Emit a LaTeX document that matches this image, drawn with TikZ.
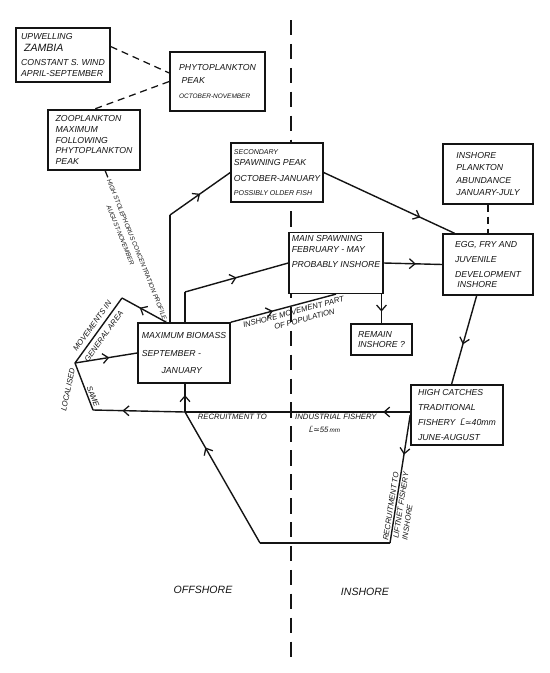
\documentclass[tikz,border=0pt]{standalone}
\usepackage{fontspec}
\setmainfont{Liberation Sans}
\newfontfamily\symfont{DejaVu Sans}
\usetikzlibrary{
  positioning,
  arrows.meta,
  decorations.markings,
}
\definecolor{ink}{HTML}{141414}
\tikzset{
  notebox/.style={
    rectangle, draw=ink, fill=white, line width=1.1pt, align=left,
    font=\fontsize{6.2}{7.6}\selectfont\itshape, text=ink, inner sep=2pt,
  },
  flow/.style={draw=ink, line width=1pt},
  midarrow/.style={postaction={decorate}, decoration={markings,
    mark=at position #1 with {\arrow{Straight Barb[length=4pt, width=7pt, line width=0.9pt]}}}},
  midarrow/.default=0.5,
  dashlink/.style={draw=ink, line width=0.9pt, dash pattern=on 5pt off 3.5pt},
  divider/.style={draw=ink, line width=1.1pt, dash pattern=on 11pt off 6pt},
  lbl/.style={font=\fontsize{5.5}{6.5}\selectfont\itshape, text=ink, inner sep=1pt},
  tinylbl/.style={lbl, font=\fontsize{4.5}{5}\selectfont\itshape},
  sidelbl/.style={font=\fontsize{7.5}{9}\selectfont\itshape, text=ink},
}

\begin{document}
\begin{tikzpicture}[x=0.025cm, y=-0.025cm]
  \useasboundingbox (0,0) rectangle (550,673);

  % offshore / inshore divide
  \coordinate (dtop) at (291,20);
  \coordinate (dbot) at (291,665);
  \draw[divider] (dtop) -- (dbot);

  % plankton boxes
  \node[notebox, minimum width=2.35cm, minimum height=1.35cm] (upw) at (63,55) {UPWELLING\\[1pt]{\fontsize{7.5}{8}\selectfont\ ZAMBIA}\\[2pt]CONSTANT S. WIND\\APRIL-SEPTEMBER};
  \node[notebox, minimum width=2.375cm, minimum height=1.475cm] (phy) at (217.5,81.5) {PHYTOPLANKTON\\[2pt]\ PEAK\\[3pt]{\fontsize{4.6}{5}\selectfont OCTOBER-NOVEMBER}};
  \node[notebox, minimum width=2.3cm, minimum height=1.5cm] (zoo) at (94,140) {ZOOPLANKTON\\MAXIMUM\\FOLLOWING\\PHYTOPLANKTON\\PEAK};
  \node[notebox, minimum width=2.25cm, minimum height=1.5cm] (insp) at (488,174) {INSHORE\\[1pt]PLANKTON\\[1pt]ABUNDANCE\\[1pt]JANUARY-JULY};

  % spawning and stock boxes
  \node[notebox, minimum width=2.25cm, minimum height=1.475cm] (sec) at (277,172.5) {{\fontsize{5}{5.5}\selectfont SECONDARY}\\SPAWNING PEAK\\[4pt]OCTOBER-JANUARY\\[2pt]{\fontsize{5}{6}\selectfont POSSIBLY OLDER FISH}};
  \node[notebox, minimum width=2.3cm, minimum height=1.5cm] (msp) at (336,263) {MAIN SPAWNING\\FEBRUARY - MAY\\[3pt]PROBABLY INSHORE\\[9pt]~};
  \node[notebox, minimum width=2.25cm, minimum height=1.525cm] (eggs) at (488,264.5) {EGG, FRY AND\\[3pt]JUVENILE\\[3pt]DEVELOPMENT\\\ INSHORE};
  \node[notebox, minimum width=1.525cm, minimum height=0.775cm] (remain) at (381.5,339.5) {REMAIN\\INSHORE ?};
  \node[notebox, minimum width=2.3cm, minimum height=1.5cm] (maxb) at (184,353) {MAXIMUM BIOMASS\\[5pt]SEPTEMBER -\\[5pt]\hspace{14pt}JANUARY};
  \node[notebox, minimum width=2.3cm, minimum height=1.5cm] (high) at (457,415) {HIGH CATCHES\\[3pt]TRADITIONAL\\[3pt]FISHERY \ \=L{\symfont\fontsize{5.5}{6}\selectfont ≃}40mm\\[3pt]JUNE-AUGUST};

  % dashed links
  \draw[dashlink] (upw.10) -- (phy.170);
  \draw[dashlink] (phy.west) -- (zoo.north);
  \draw[dashlink] (zoo.290)
    -- node[tinylbl, sloped, fill=white, pos=0.52] (stol) {HIGH STOLEPHORUS CONCENTRATION PROFILE}
       node[tinylbl, sloped, below=4pt, pos=0.4] {AUGUST-NOVEMBER} (maxb.120);
  \draw[dashlink] (insp.south) -- (eggs.north);

  % movements out of the maximum biomass
  \coordinate (k1) at (170,215);
  \draw[flow] (maxb.north -| k1) -- (k1);
  \draw[flow, midarrow=0.5] (k1) -- (sec.west);
  \coordinate (k2) at (185,292);
  \draw[flow] (maxb.north -| k2) -- (k2);
  \draw[flow, midarrow=0.5] (k2) -- (msp.west);
  \draw[flow, midarrow=0.4] (maxb.north east)
    -- node[lbl, sloped, below=1pt, pos=0.58] {INSHORE MOVEMENT PART}
       node[lbl, sloped, below=8pt, pos=0.66] {OF POPULATION} (msp.south);

  % inshore chain
  \draw[flow, midarrow=0.74] (sec.east) -- (eggs.137);
  \draw[flow, midarrow=0.55] (msp.east) -- (eggs.west);
  \draw[flow, midarrow=0.6] (msp.south -| remain.north) -- (remain.north);
  \draw[flow, midarrow=0.55] (eggs.250) -- (high.100);

  % recruitment back offshore
  \coordinate (j) at (185,412);
  \draw[flow, midarrow=0.12] (high.west |- j)
    -- node[lbl, below, pos=0.33] (ind) {INDUSTRIAL FISHERY}
       node[lbl, below, pos=0.79] {RECRUITMENT TO} (j);
  \node[lbl, below=2pt of ind, xshift=-8pt] (len) {\=L{\symfont ≃}55\,{\fontsize{4.5}{5}\selectfont mm}};
  \draw[flow, midarrow=0.6] (j) -- (maxb.south -| j);

  % localised movements loop
  \coordinate (k3) at (93,410);
  \coordinate (k4) at (75,363);
  \coordinate (k5) at (122,298);
  \draw[flow, midarrow=0.68] (j) -- (k3);
  \draw[flow] (k4) -- node[lbl, sloped, above, pos=0.75] {SAME} (k3);
  \draw[flow, midarrow=0.55] (k4) -- (maxb.west);
  \draw[flow, midarrow=0.6] (maxb.120) -- (k5);
  \draw[flow] (k5) -- node[lbl, sloped, above=2pt, pos=0.5] {MOVEMENTS IN} node[lbl, sloped, below=2pt, pos=0.52] {GENERAL AREA} (k4);
  \node[lbl, rotate=78] (loc) at (68,390) {LOCALISED};

  % liftnet recruitment loop
  \coordinate (k6) at (390,543);
  \coordinate (k7) at (260,543);
  \draw[flow, midarrow=0.31] (high.west) -- node[lbl, sloped, above, pos=0.72] {RECRUITMENT TO} node[lbl, sloped, below, align=left, pos=0.7] {LIFTNET FISHERY\\INSHORE} (k6);
  \draw[flow] (k6) -- (k7);
  \draw[flow, midarrow=0.73] (k7) -- (j);

  % zones
  \node[sidelbl] (off) at (203,590) {OFFSHORE};
  \node[sidelbl] (ins) at (365,592) {INSHORE};
\end{tikzpicture}
\end{document}
